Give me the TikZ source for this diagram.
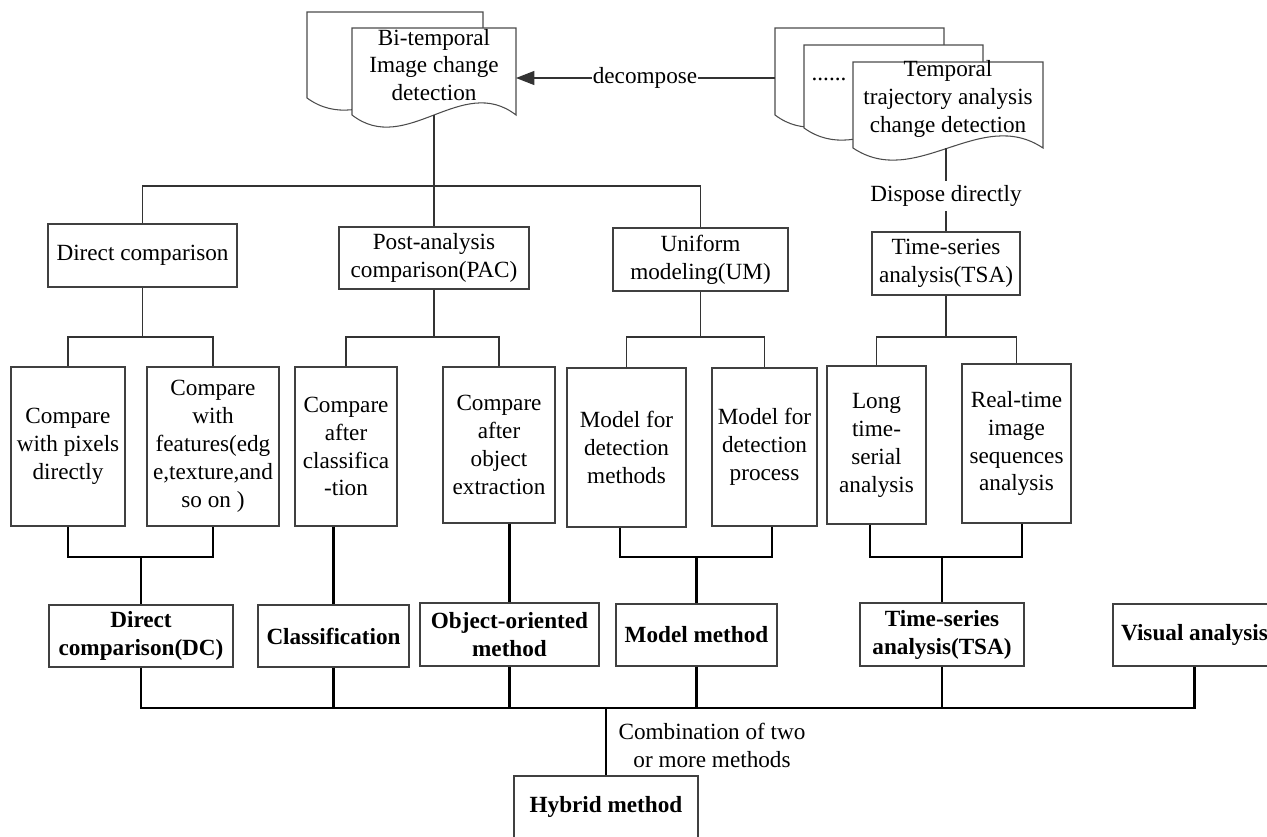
\documentclass[tikz,border=0pt]{standalone}
\usepackage{fontspec}
\setmainfont{Liberation Serif}
\usetikzlibrary{arrows.meta}
\newlength{\pxl}
\setlength{\pxl}{0.02cm}
\newcommand{\docpage}[4]{%
  \filldraw[sheet] (#1,#4) -- (#1,#2) -- (#3,#2) -- (#3,#4)
    .. controls ({#1+0.67*(#3-#1)},{#4-42}) and ({#1+0.33*(#3-#1)},{#4+42}) .. (#1,#4) -- cycle;}

\begin{document}
\begin{tikzpicture}[x=0.02cm,y=-0.02cm,
  box/.style={draw=black!75,line width=0.6pt,inner sep=0pt,align=center,font=\fontsize{13.2}{15.9}\selectfont},
  bbox/.style={box,font=\fontsize{13.2}{15.9}\selectfont\bfseries},
  wh/.style 2 args={minimum width=#1\pxl,minimum height=#2\pxl},
  lbl/.style={inner sep=0.5pt,align=center,font=\fontsize{13.2}{15.9}\selectfont},
  sheet/.style={draw=black!70,fill=white,line width=0.6pt},
  tline/.style={draw=black!80,line width=0.7pt},
  mline/.style={draw=black,line width=1.3pt}]
	 \useasboundingbox (0,0) rectangle (1267,836);
	 \clip (0,0) rectangle (1267,836);

	 % documents on top
	 \docpage{307}{12}{483}{98}
	 \docpage{352}{28}{516}{115}
	 \node at (434,65) [lbl] (bitemp) {Bi-temporal\\Image change\\detection};
	 \coordinate (bitemp-e) at (516,78);
	 \coordinate (bitemp-s) at (434,115);

	 \docpage{775}{28}{944}{115}
	 \docpage{804}{45}{983}{128}
	 \docpage{853}{62}{1043}{148}
	 \node at (829,79) [lbl] (dots) {......};
	 \node at (948,99) [lbl] (traj) {Temporal\\trajectory analysis\\change detection};
	 \coordinate (traj-w) at (775,78);
	 \coordinate (traj-s) at (946,148);

	 \node at (645,78) [lbl] (decomp) {decompose};
	 \node at (946,196) [lbl,inner sep=2.5pt] (dispose) {Dispose directly};

	 % second level
	 \node at (142.5,255.5) [box,wh={189}{63}] (dc) {Direct comparison};
	 \node at (434,258) [box,wh={190}{62}] (pac) {Post-analysis\\comparison(PAC)};
	 \node at (700.5,259.5) [box,wh={175}{63}] (um) {Uniform\\modeling(UM)};
	 \node at (946,263.5) [box,wh={148}{63}] (tsa) {Time-series\\analysis(TSA)};

	 % leaves
	 \node at (68,446.5) [box,wh={114}{159}] (pix) {Compare\\with pixels\\directly};
	 \node at (213,446.5) [box,wh={132}{159}] (feat) {Compare\\with\\features(edg\\e,texture,and\\so on )};
	 \node at (346,446.5) [box,wh={102}{159}] (cls) {Compare\\after\\classifica\\-tion};
	 \node at (499,445) [box,wh={112}{156}] (obj) {Compare\\after\\object\\extraction};
	 \node at (626.5,447.5) [box,wh={119}{159}] (mdm) {Model for\\detection\\methods};
	 \node at (764.5,447) [box,wh={105}{158}] (mdp) {Model for\\detection\\process};
	 \node at (876.5,445) [box,wh={99}{158}] (lts) {Long\\time-\\serial\\analysis};
	 \node at (1016.5,443.5) [box,wh={109}{159}] (rts) {Real-time\\image\\sequences\\analysis};

	 % methods
	 \node at (141,636) [bbox,wh={184}{62}] (bdc) {Direct\\comparison(DC)};
	 \node at (333.5,636) [bbox,wh={151}{62}] (bcls) {Classification};
	 \node at (509.5,634.5) [bbox,wh={179}{63}] (boo) {Object-oriented\\method};
	 \node at (696.5,635) [bbox,wh={161}{62}] (bmm) {Model method};
	 \node at (942,634.5) [bbox,wh={164}{63}] (btsa) {Time-series\\analysis(TSA)};
	 \node at (1194.5,635) [bbox,wh={163}{62}] (bva) {Visual analysis};
	 \node at (606,807) [bbox,wh={184}{62}] (hyb) {Hybrid method};
	 \node at (712,745.5) [lbl] (comb) {Combination of two\\or more methods};

	 \coordinate (bus1) at (0,186);
	 \coordinate (br) at (0,337);
	 \coordinate (mg1) at (620,557);
	 \coordinate (mg2) at (772,557);
	 \coordinate (mg3) at (870,557);
	 \coordinate (mg4) at (1022,557);
	 \coordinate (bus2) at (0,708);

	 \draw[tline,-{Triangle[length=10.5pt,width=8pt]}] (decomp) -- (bitemp-e);
	 \draw[tline] (decomp) -- (traj-w);
	 \draw[tline] (traj-s) -- (dispose) -- (tsa);
	 \draw[tline] (bitemp-s) -- (bitemp-s |- pac.north);
	 \draw[tline] (dc.north) -- (dc.north |- bus1) -- (um.north |- bus1) -- (um.north);

	 \draw[tline] (dc.south) -- (dc.south |- br);
	 \draw[tline] (pix.north) -- (pix.north |- br) -- (feat.north |- br) -- (feat.north);
	 \draw[tline] (pac.south) -- (pac.south |- br);
	 \draw[tline] (cls.north) -- (cls.north |- br) -- (obj.north |- br) -- (obj.north);
	 \draw[tline] (um.south) -- (um.south |- br);
	 \draw[tline] (mdm.north) -- (mdm.north |- br) -- (mdp.north |- br) -- (mdp.north);
	 \draw[tline] (tsa.south) -- (tsa.south |- br);
	 \draw[tline] (lts.north) -- (lts.north |- br) -- (rts.north |- br) -- (rts.north);

	 \draw[mline] (pix.south) -- (pix.south |- mg1) -- (feat.south |- mg1) -- (feat.south);
	 \draw[mline] (bdc.north |- mg1) -- (bdc.north);
	 \draw[mline] (bcls.north |- cls.south) -- (bcls.north);
	 \draw[mline] (boo.north |- obj.south) -- (boo.north);
	 \draw[mline] (mdm.south -| mg1) -- (mg1) -- (mg2) -- (mdp.south -| mg2);
	 \draw[mline] (bmm.north |- mg1) -- (bmm.north);
	 \draw[mline] (lts.south -| mg3) -- (mg3) -- (mg4) -- (rts.south -| mg4);
	 \draw[mline] (btsa.north |- mg3) -- (btsa.north);

	 \draw[mline] (bdc.south) -- (bdc.south |- bus2) -- (bva.south |- bus2) -- (bva.south);
	 \draw[mline] (bcls.south) -- (bcls.south |- bus2);
	 \draw[mline] (boo.south) -- (boo.south |- bus2);
	 \draw[mline] (bmm.south) -- (bmm.south |- bus2);
	 \draw[mline] (btsa.south) -- (btsa.south |- bus2);
	 \draw[mline] (hyb.north |- bus2) -- (hyb.north);

\end{tikzpicture}
\end{document}
